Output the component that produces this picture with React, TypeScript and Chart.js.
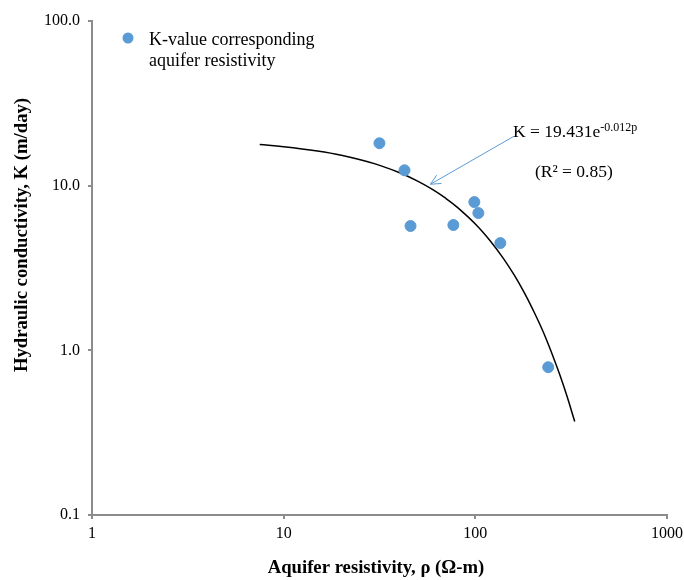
import React, { useEffect, useRef } from "react";
import { Chart, registerables } from "chart.js";

Chart.register(...registerables);

// Measured points: aquifer resistivity (Ω-m) vs hydraulic conductivity K (m/day)
const resistivity = [31.6, 42.7, 45.9, 76.8, 98.8, 103.7, 135, 240];
const kValues = [18.1, 12.4, 5.69, 5.77, 7.95, 6.82, 4.48, 0.79];

// Exponential trend line K = 19.431 e^(-0.012ρ), read at these resistivities
const trendRho = [7.5, 10, 15, 20, 30, 40, 50, 60, 70, 80, 100, 120, 140, 160, 180, 200, 225, 250, 275, 300, 330];
const trendK = [17.76, 17.23, 16.23, 15.29, 13.56, 12.02, 10.66, 9.46, 8.39, 7.44, 5.85, 4.6, 3.62, 2.85, 2.24, 1.76, 1.31, 0.967, 0.717, 0.531, 0.37];

const xTicks = [1, 10, 100, 1000];
const yTicks = [0.1, 1, 10, 100];

const legendLines = ["K-value corresponding", "aquifer resistivity"];
const equationMain = "K = 19.431e";
const equationSup = "-0.012p";
const r2Label = "(R² = 0.85)";
const xTitle = "Aquifer resistivity, ρ (Ω-m)";
const yTitle = "Hydraulic conductivity, K (m/day)";

// arrow (data coordinates) from label to trend line
const arrowFrom = { x: 159.6, y: 20.0 };
const arrowTo = { x: 58.3, y: 10.2 };

const BLUE = "#5b9bd5";
const AXIS = "#8c8c8c";
const SERIF = "'Liberation Serif', 'Times New Roman', serif";

const overlay = {
  id: "overlay",
  afterDraw(chart: any) {
    const ctx = chart.ctx;
    const xs = chart.scales.x;
    const ys = chart.scales.y;
    ctx.save();
    // legend
    ctx.fillStyle = BLUE;
    ctx.beginPath();
    ctx.arc(128, 38, 5.5, 0, Math.PI * 2);
    ctx.fill();
    ctx.fillStyle = "#000";
    ctx.font = `18px ${SERIF}`;
    ctx.textBaseline = "alphabetic";
    ctx.textAlign = "left";
    ctx.fillText(legendLines[0], 149, 45);
    ctx.fillText(legendLines[1], 149, 66);

    // equation
    ctx.font = `17.5px ${SERIF}`;
    ctx.fillText(equationMain, 513, 137);
    const w = ctx.measureText(equationMain).width;
    ctx.font = `12px ${SERIF}`;
    ctx.fillText(equationSup, 513 + w, 131);
    ctx.font = `17.5px ${SERIF}`;
    ctx.fillText(r2Label, 535, 177);

    // arrow
    const x1 = xs.getPixelForValue(arrowFrom.x);
    const y1 = ys.getPixelForValue(arrowFrom.y);
    const x2 = xs.getPixelForValue(arrowTo.x);
    const y2 = ys.getPixelForValue(arrowTo.y);
    ctx.strokeStyle = BLUE;
    ctx.lineWidth = 1;
    ctx.beginPath();
    ctx.moveTo(x1, y1);
    ctx.lineTo(x2, y2);
    const ang = Math.atan2(y1 - y2, x1 - x2);
    const hl = 11;
    const spread = 0.45;
    ctx.moveTo(x2 + hl * Math.cos(ang + spread), y2 + hl * Math.sin(ang + spread));
    ctx.lineTo(x2, y2);
    ctx.lineTo(x2 + hl * Math.cos(ang - spread), y2 + hl * Math.sin(ang - spread));
    ctx.stroke();

    // axis titles
    ctx.fillStyle = "#000";
    ctx.font = `bold 18.7px ${SERIF}`;
    ctx.textAlign = "center";
    ctx.textBaseline = "middle";
    ctx.fillText(xTitle, 376, 568);
    ctx.translate(22, 235);
    ctx.rotate(-Math.PI / 2);
    ctx.fillText(yTitle, 0, 0);
    ctx.restore();
  },
};

export default function App() {
  const ref = useRef<HTMLCanvasElement>(null);
  useEffect(() => {
    if (!ref.current) return;
    const chart = new Chart(ref.current, {
      type: "scatter",
      data: {
        datasets: [
          {
            label: "K-value corresponding aquifer resistivity",
            data: resistivity.map((r, i) => ({ x: r, y: kValues[i] })),
            backgroundColor: BLUE,
            borderColor: BLUE,
            pointRadius: 5.5,
            pointHoverRadius: 5.5,
            order: 0,
          },
          {
            label: "Trend",
            data: trendRho.map((r, i) => ({ x: r, y: trendK[i] })),
            showLine: true,
            borderColor: "#000",
            borderWidth: 1.5,
            pointRadius: 0,
            tension: 0.4,
            order: 1,
          },
        ],
      },
      options: {
        animation: false,
        responsive: false,
        layout: { padding: { left: 0, top: 21, right: 17, bottom: 0 } },
        plugins: { legend: { display: false }, tooltip: { enabled: false } },
        scales: {
          x: {
            type: "logarithmic",
            min: 1,
            max: 1000,
            afterBuildTicks: (s: any) => {
              s.ticks = xTicks.map((v) => ({ value: v }));
            },
            afterFit: (s: any) => {
              s.height = 65;
              s.paddingLeft = 0;
              s.paddingRight = 0;
            },
            border: { color: AXIS, width: 2 },
            grid: { drawOnChartArea: false, drawTicks: true, tickLength: 4, color: AXIS, lineWidth: 2 },
            ticks: {
              color: "#000",
              font: { family: SERIF, size: 16 },
              padding: 5,
              maxRotation: 0,
              callback: (v: any) => String(v),
            },
          },
          y: {
            type: "logarithmic",
            min: 0.1,
            max: 100,
            afterBuildTicks: (s: any) => {
              s.ticks = yTicks.map((v) => ({ value: v }));
            },
            afterFit: (s: any) => {
              s.width = 92;
              s.paddingTop = 0;
              s.paddingBottom = 0;
            },
            border: { color: AXIS, width: 2 },
            grid: { drawOnChartArea: false, drawTicks: true, tickLength: 4, color: AXIS, lineWidth: 2 },
            ticks: {
              color: "#000",
              font: { family: SERIF, size: 16 },
              padding: 8,
              callback: (v: any) => Number(v).toFixed(1),
            },
          },
        },
      },
      plugins: [overlay],
    });
    return () => chart.destroy();
  }, []);
  return (
    <div style={{ position: "fixed", left: 0, top: 0, width: 684, height: 580, background: "#fff" }}>
      <canvas ref={ref} width={684} height={580} />
    </div>
  );
}
